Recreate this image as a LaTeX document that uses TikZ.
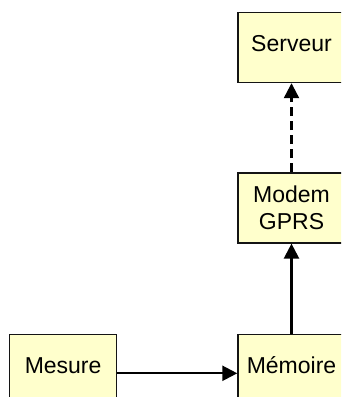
\documentclass[tikz,border=0pt]{standalone}
\usepackage{fontspec}
\newfontfamily\boxfont{Liberation Sans}
\usetikzlibrary{arrows.meta}
\usetikzlibrary{positioning}
\definecolor{boxfill}{RGB}{255,255,204}
\definecolor{boxline}{RGB}{20,20,20}
\tikzset{
  box/.style = {
    draw = boxline, fill = boxfill,
    line width = 1.4pt,
    minimum width = 107pt, minimum height = 70pt,
    inner sep = 0pt,
    align = center,
    font = {\boxfont\fontsize{23}{27.6}\selectfont},
  },
  oneline/.style = {text depth = 8pt},
  link/.style = {
    line width = 2.3pt,
    -{Triangle[length=15pt, width=15pt]},
  },
}
\begin{document}
\begin{tikzpicture}[x = 1pt, y = -1pt]
  \path[use as bounding box, fill = white] (0,0) rectangle (341,397);
  \clip (0,0) rectangle (341,397);
  % right column
  \node[box, oneline] (serveur) at (291.5,47.5) {Serveur};
  \node[box, below = 89pt of serveur] (modem) {Modem\\GPRS};
  \node[box, oneline, below = 90pt of modem] (memoire) {Mémoire};
  % left
  \node[box, oneline, left = 120pt of memoire] (mesure) {Mesure};
  % links
  \draw[link] ([yshift=-4pt]mesure.east) -- ([yshift=-4pt]memoire.west);
  \draw[link] (memoire.north) -- (modem.south);
  \draw[link, dash pattern = on 9pt off 5pt] (modem.north) -- (serveur.south);
\end{tikzpicture}
\end{document}
